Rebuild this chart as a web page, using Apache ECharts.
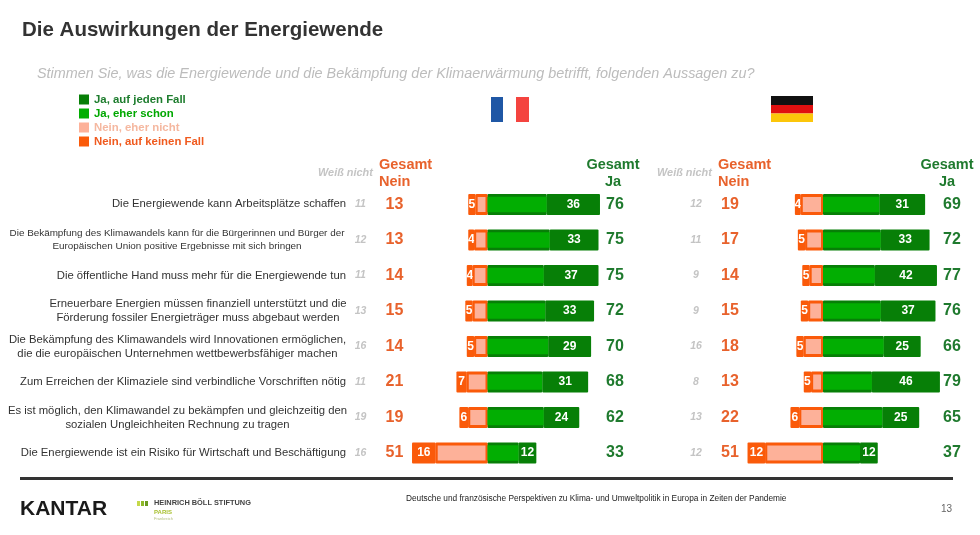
<!DOCTYPE html>
<html><head><meta charset="utf-8">
<style>html,body{margin:0;padding:0;background:#fff}#c{width:980px;height:535px}</style>
<script src="https://cdn.jsdelivr.net/npm/echarts@6/dist/echarts.min.js"></script>
</head><body><div id="c"></div>
<script>
const statements = [
  "Die Energiewende kann Arbeitsplätze schaffen",
  "Die Bekämpfung des Klimawandels kann für die Bürgerinnen und Bürger der\nEuropäischen Union positive Ergebnisse mit sich bringen",
  "Die öffentliche Hand muss mehr für die Energiewende tun",
  "Erneuerbare Energien müssen finanziell unterstützt und die\nFörderung fossiler Energieträger muss abgebaut werden",
  "Die Bekämpfung des Klimawandels wird Innovationen ermöglichen,\ndie die europäischen Unternehmen wettbewerbsfähiger machen",
  "Zum Erreichen der Klimaziele sind verbindliche Vorschriften nötig",
  "Es ist möglich, den Klimawandel zu bekämpfen und gleichzeitig den\nsozialen Ungleichheiten Rechnung zu tragen",
  "Die Energiewende ist ein Risiko für Wirtschaft und Beschäftigung"
];
const names = ["Ja, auf jeden Fall","Ja, eher schon","Nein, eher nicht","Nein, auf keinen Fall"];
// France
const frJaJeden   = [36,33,37,33,29,31,24,12];
const frJaEher    = [40,42,38,39,41,37,38,21];
const frNeinEher  = [8,9,10,10,9,14,13,35];
const frNeinKein  = [5,4,4,5,5,7,6,16];
const frWeiss     = [11,12,11,13,16,11,19,16];
const frGesamtNein= [13,13,14,15,14,21,19,51];
const frGesamtJa  = [76,75,75,72,70,68,62,33];
// Deutschland
const deJaJeden   = [31,33,42,37,25,46,25,12];
const deJaEher    = [38,39,35,39,41,33,40,25];
const deNeinEher  = [15,12,9,10,13,8,16,39];
const deNeinKein  = [4,5,5,5,5,5,6,12];
const deWeiss     = [12,11,9,9,16,8,13,12];
const deGesamtNein= [19,17,14,15,18,13,22,51];
const deGesamtJa  = [69,72,77,76,66,79,65,37];

const F = '"Liberation Sans",Arial,sans-serif';
const C = {jd:'#077f07', je:'#02ae02', ne:'#fdb199', nk:'#fa5a0a', txtNein:'#e8622c', txtJa:'#1f7a2e', grey:'#c4c4c4'};
const scale = 1.48, minV = -60, maxV = 80, gridTop = 186.75, band = 35.5;
const frZero = 487.5, deZero = 823;
const rowY = i => gridTop + (i + .5) * band;
const catIdx = statements.map((_, i) => String(i));

function panel(zero, gi, yBase, d) {
  const left = zero + minV * scale, right = zero + maxV * scale;
  const labelAxis = (vals, position, x, style) => ({
    type:'category', gridIndex:gi, inverse:true, data:vals, position,
    offset: position === 'left' ? left - x : x - right,
    axisLine:{show:false}, axisTick:{show:false}, splitLine:{show:false},
    axisLabel:Object.assign({margin:0, align:'center', fontFamily:F, interval:0}, style)
  });
  const hiddenAxis = () => ({type:'category', gridIndex:gi, inverse:true, data:catIdx, show:false});
  // dark full-height stack (underlay) on the base axis
  const under = (name, vals, sign, color, lab) => ({
    name, type:'bar', stack:'under'+gi, xAxisIndex:gi, yAxisIndex:yBase, barWidth:21, z:2,
    data: vals.map(v => sign * v),
    itemStyle:{color, borderRadius:1},
    label: lab ? {show:true, position:'inside', color:'#fff', fontFamily:F, fontWeight:'bold', fontSize:12,
                  formatter:p => Math.abs(p.value)} : {show:false},
    silent:true, animation:false
  });
  // lighter inner bars, each on its own hidden parallel axis, so they sit centred over the dark stack
  const over = (name, vals, sign, color, axisOffset, border) => ({
    name, type:'bar', xAxisIndex:gi, yAxisIndex:yBase+axisOffset, barWidth:border ? 19 : 15.5, z:3,
    data: vals.map(v => sign * v),
    itemStyle: border ? {color, borderColor:C.nk, borderWidth:2} : {color},
    silent:true, animation:false
  });
  return {
    grid:{left, width:right-left, top:gridTop, height:band*8, containLabel:false},
    xAxis:{type:'value', gridIndex:gi, min:minV, max:maxV, show:false},
    yAxis:[
      hiddenAxis(), hiddenAxis(), hiddenAxis(),
      labelAxis(d.weiss, 'left', zero - 127, {color:C.grey, fontSize:10.5, fontStyle:'italic', fontWeight:'bold'}),
      labelAxis(d.nein, 'left', zero - 93, {color:C.txtNein, fontSize:16, fontWeight:'bold'}),
      labelAxis(d.ja, 'right', d.jaX, {color:C.txtJa, fontSize:16, fontWeight:'bold'})
    ],
    series:[
      under('bg-nein', d.ne, -1, C.nk, false),
      under(names[3], d.nk, -1, C.nk, true),
      under('bg-ja', d.je, 1, C.jd, false),
      under(names[0], d.jd, 1, C.jd, true),
      over(names[2], d.ne, -1, C.ne, 1, true),
      over(names[1], d.je, 1, C.je, 2, false)
    ]
  };
}
const fr = panel(frZero, 0, 0, {weiss:frWeiss, nein:frGesamtNein, ja:frGesamtJa, jaX:615, ne:frNeinEher, nk:frNeinKein, je:frJaEher, jd:frJaJeden});
const de = panel(deZero, 1, 6, {weiss:deWeiss, nein:deGesamtNein, ja:deGesamtJa, jaX:952, ne:deNeinEher, nk:deNeinKein, je:deJaEher, jd:deJaJeden});

const txt = (x, y, text, o) => ({type:'text', x, y, silent:true, style:Object.assign({text, fontFamily:F, verticalAlign:'middle'}, o)});
const rect = (x, y, w, h, fill) => ({type:'rect', silent:true, shape:{x,y,width:w,height:h}, style:{fill}});
const graphic = [
  txt(22, 30, 'Die Auswirkungen der Energiewende', {fontSize:20.5, fontWeight:'bold', fill:'#333'}),
  txt(37, 73.5, 'Stimmen Sie, was die Energiewende und die Bekämpfung der Klimaerwärmung betrifft, folgenden Aussagen zu?', {fontSize:14.4, fontStyle:'italic', fill:'#bcbcbc'}),
  rect(491,97,12,25,'#1f57a5'), rect(503,97,13,25,'#ffffff'), rect(516,97,13,25,'#f4443f'),
  rect(771,96,42,9,'#111'), rect(771,105,42,8.5,'#e01010'), rect(771,113.5,42,8.5,'#fcc60a'),
  txt(318,173,'Weiß nicht',{fontSize:10.9,fontStyle:'italic',fontWeight:'bold',fill:C.grey}),
  txt(657,173,'Weiß nicht',{fontSize:10.9,fontStyle:'italic',fontWeight:'bold',fill:C.grey}),
  txt(379,165,'Gesamt',{fontSize:14.5,fontWeight:'bold',fill:C.txtNein}),
  txt(379,182,'Nein',{fontSize:14.5,fontWeight:'bold',fill:C.txtNein}),
  txt(718,165,'Gesamt',{fontSize:14.5,fontWeight:'bold',fill:C.txtNein}),
  txt(718,182,'Nein',{fontSize:14.5,fontWeight:'bold',fill:C.txtNein}),
  txt(613,165,'Gesamt',{fontSize:14.5,fontWeight:'bold',fill:C.txtJa,align:'center'}),
  txt(613,182,'Ja',{fontSize:14.5,fontWeight:'bold',fill:C.txtJa,align:'center'}),
  txt(947,165,'Gesamt',{fontSize:14.5,fontWeight:'bold',fill:C.txtJa,align:'center'}),
  txt(947,182,'Ja',{fontSize:14.5,fontWeight:'bold',fill:C.txtJa,align:'center'}),
  rect(20,477,933,3,'#333'),
  txt(20,509,'KANTAR',{fontSize:21,fontWeight:'bold',fill:'#1a1a1a'}),
  rect(137,501,3,5,'#c5d84a'), rect(141,501,3,5,'#8fb82a'), rect(145,501,3,5,'#6a9a20'),
  txt(154,503,'HEINRICH BÖLL STIFTUNG',{fontSize:7.4,fontWeight:'bold',fill:'#444'}),
  txt(154,512,'PARIS',{fontSize:6,fontWeight:'bold',fill:'#a8c030'}),
  txt(154,519,'Frankreich',{fontSize:4,fill:'#b5c080'}),
  txt(406,499,'Deutsche und französische Perspektiven zu Klima- und Umweltpolitik in Europa in Zeiten der Pandemie',{fontSize:8.3,fill:'#222'}),
  txt(941,509,'13',{fontSize:10,fill:'#666'})
];
statements.forEach((s, i) => {
  const two = s.includes('\n');
  graphic.push(txt(two ? [0,177,0,198,177.5,0,177.5,0][i] : 346, rowY(i) - (i===0?1:0), s, {
    fontSize: i===1 ? 9.9 : 11.3, lineHeight: i===1 ? 13 : 14, fill:'#333', align: two ? 'center' : 'right'
  }));
});

const legendColors = [['#1e7d2e',C.jd],['#00a800',C.je],['#f5b8a0',C.ne],['#f05a1e',C.nk]];
const option = {
  animation:false, backgroundColor:'#fff',
  legend:{
    orient:'vertical', left:74, top:89, itemWidth:10, itemHeight:10, itemGap:3, icon:'rect', selectedMode:false,
    textStyle:{fontFamily:F, fontWeight:'bold', fontSize:11.4},
    data:names.map((n,i)=>({name:n, itemStyle:{color:legendColors[i][1], borderWidth:0}, textStyle:{color:legendColors[i][0]}}))
  },
  grid:[fr.grid, de.grid],
  xAxis:[fr.xAxis, de.xAxis],
  yAxis:[...fr.yAxis, ...de.yAxis],
  series:[...fr.series, ...de.series],
  graphic:{elements:graphic}
};
echarts.init(document.getElementById('c'),null,{renderer:'canvas'}).setOption(option);
</script></body></html>
